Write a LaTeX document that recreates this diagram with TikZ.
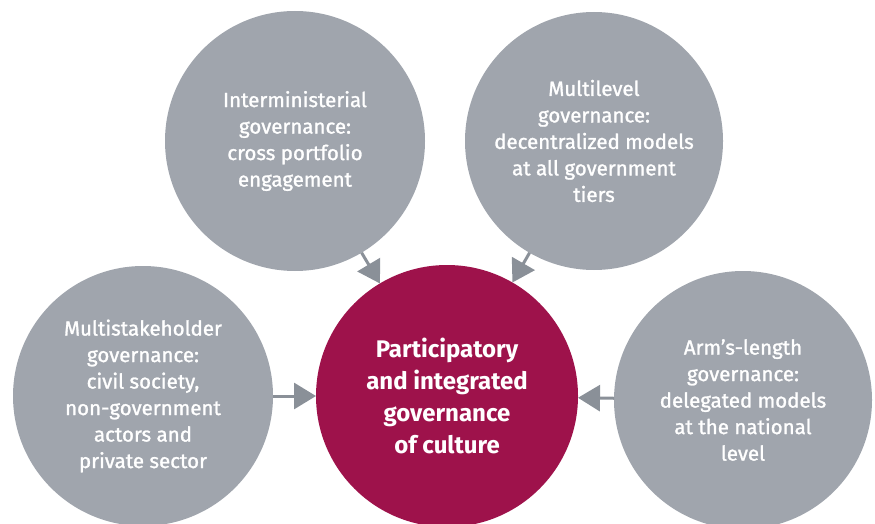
\documentclass[tikz,border=0pt]{standalone}
\usepackage{fontspec}
\setmainfont{Fira Sans}
\newfontfamily\bubblefont[FakeBold=1.3]{Fira Sans}
\usepackage{xcolor}
\usetikzlibrary{arrows.meta}

\definecolor{bubblegray}{HTML}{A0A5AD}
\definecolor{arrowgray}{HTML}{8A9098}
\definecolor{wine}{HTML}{9E124B}

\tikzset{
  bubble/.style={circle,fill=bubblegray,text=white,inner sep=0pt,outer sep=0pt,
    align=center,font=\bubblefont\fontsize{20.5}{26.5}\selectfont},
  hub/.style={bubble,fill=wine,font=\fontsize{24}{32}\selectfont\bfseries},
  feed/.style={draw=arrowgray,line width=3pt,-{Triangle[length=22pt,width=26pt]}}
}

\begin{document}
\begin{tikzpicture}[x=1pt,y=1pt]
	\useasboundingbox (0,0) rectangle (875,523);
	
	\node[bubble,minimum size=260pt] (tl) at (295,382) {Interministerial\\governance:\\cross portfolio\\engagement};
	\node[bubble,minimum size=258pt] (tr) at (594,382) {Multilevel\\governance:\\decentralized models\\at all government\\tiers};
	\node[bubble,minimum size=260pt] (l) at (143,127) {Multistakeholder\\governance:\\civil society,\\non-government\\actors and\\private sector};
	\node[bubble,minimum size=258pt] (r) at (743,123) {Arm’s-length\\governance:\\delegated models\\at the national\\level};
	\node[hub,minimum size=262pt] (c) at (447,127) {Participatory\\and integrated\\governance\\of culture};
	
	\foreach \s in {tl,tr,l,r}
	\draw[feed] (\s) -- (c);
\end{tikzpicture}
\end{document}
